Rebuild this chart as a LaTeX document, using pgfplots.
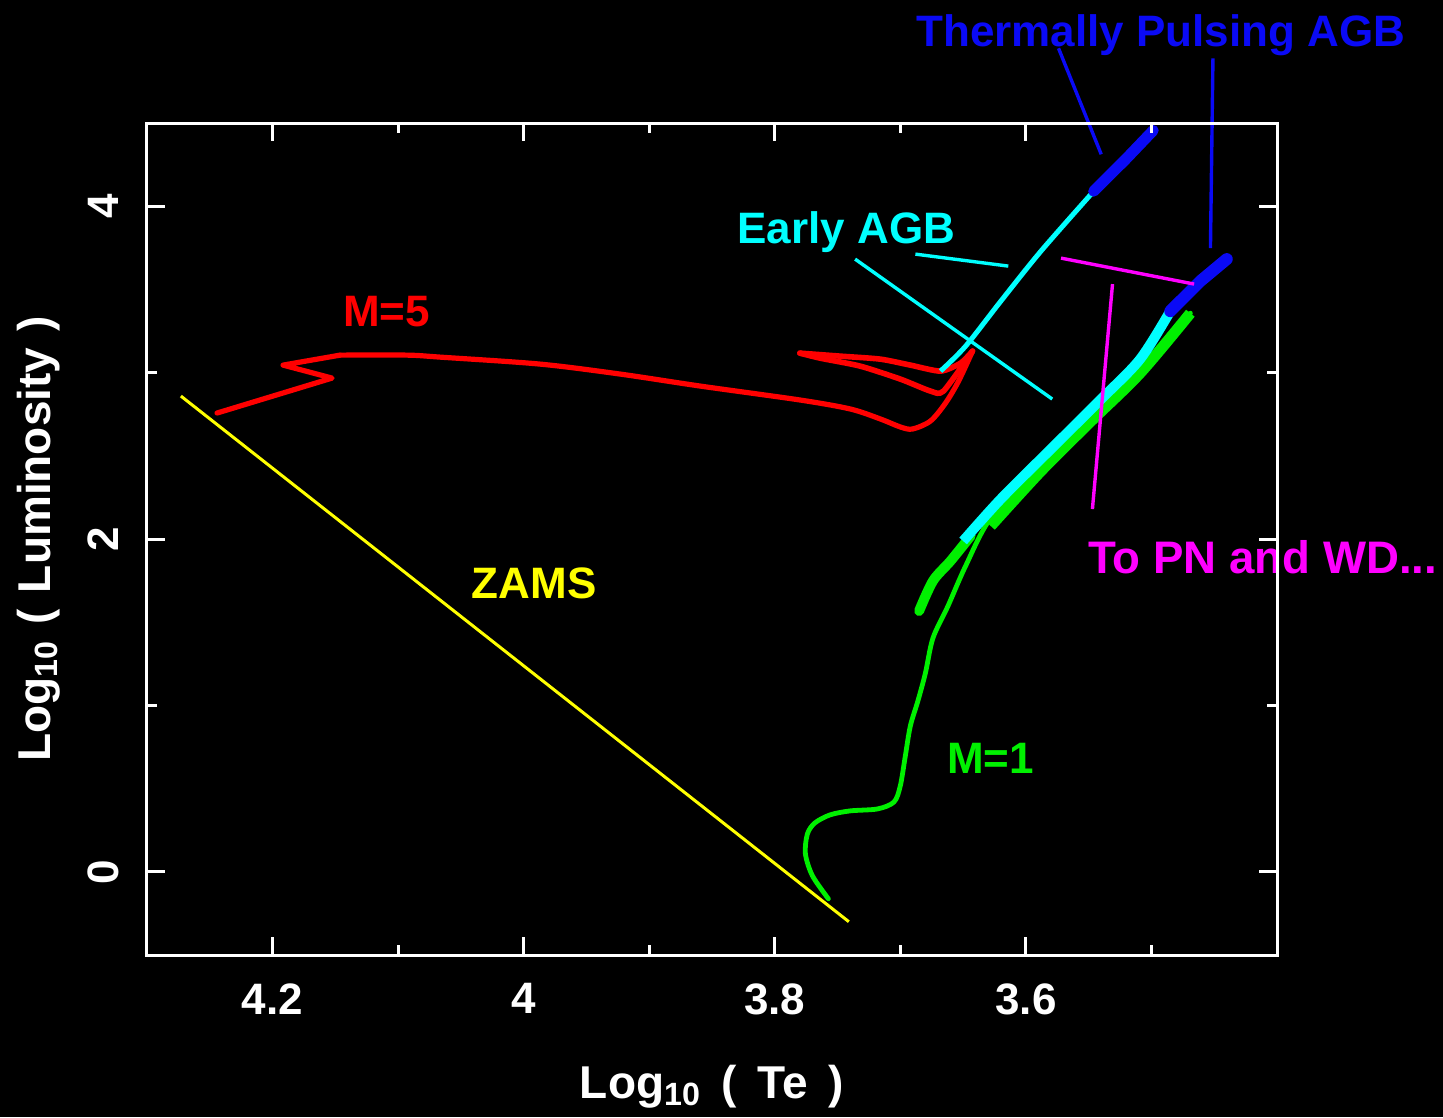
\documentclass[border=0pt]{standalone}
\usepackage{fontspec}
\setmainfont{Liberation Sans}
\usepackage{pgfplots}
\pgfplotsset{compat=1.18}
\definecolor{cred}{RGB}{255,0,0}
\definecolor{cgreen}{RGB}{0,240,0}
\definecolor{ccyan}{RGB}{0,255,255}
\definecolor{cblue}{RGB}{10,10,245}
\definecolor{cmag}{RGB}{255,0,255}
\definecolor{cyel}{RGB}{255,255,0}
\begin{document}
\begin{tikzpicture}
\useasboundingbox[fill=black] (-73.5pt,-81pt) rectangle (648pt,477.5pt);
\begin{axis}[at={(0,0)}, anchor=south west, scale only axis, width=565pt, height=416pt,
  x dir=reverse, xmin=3.4, xmax=4.3, ymin=-0.5, ymax=4.5, clip=false, axis on top,
  xtick={3.6,3.8,4,4.2}, minor xtick={3.5,3.7,3.9,4.1},
  ytick={0,2,4}, minor ytick={1,3},
  major tick length=9pt, minor tick length=5pt,
  axis line style={white, line width=1.5pt},
  tick style={white, line width=1.5pt},
  /pgf/number format/assume math mode=true,
  ticklabel style={font=\fontsize{22}{26}\selectfont\bfseries, white, inner sep=0pt},
  xticklabel style={anchor=north}, xticklabel shift=14pt,
  yticklabel style={rotate=90, anchor=south}, yticklabel shift=14pt,
  label style={font=\fontsize{23}{27}\selectfont\bfseries, white, inner sep=0pt},
  xlabel={Log\textsubscript{10}\hspace{0.45em}(\hspace{0.45em}Te\hspace{0.45em})},
  ylabel={Log\textsubscript{10}\hspace{0.35em}(\hspace{0.35em}Luminosity\hspace{0.35em})},
  xlabel style={at={(axis description cs:0.5,-0.1719)}, anchor=base},
  ylabel style={at={(axis description cs:-0.0858,0.5)}, anchor=base},
]
% ZAMS
\addplot[cyel, line width=1.5pt] coordinates {(4.273,2.859) (3.741,-0.300)};
% M=5 track
\addplot[cred, line width=2.6pt, line join=round, line cap=round] coordinates {
 (4.2442,2.757) (4.1526,2.967) (4.1916,3.045) (4.1781,3.063) (4.1462,3.105)};
\addplot[cred, line width=2.6pt, line join=round, line cap=round, smooth, tension=0.5] coordinates {
 (4.1462,3.105) (4.0928,3.105) (4.0665,3.093) (3.9868,3.051) (3.9230,2.991) (3.8593,2.919)
 (3.7796,2.835) (3.7397,2.781) (3.7158,2.721) (3.6999,2.673) (3.6903,2.661) (3.6760,2.709)
 (3.6640,2.817) (3.6536,2.949) (3.6425,3.129)};
\addplot[cred, line width=2.8pt, line join=round, line cap=round, smooth, tension=0.4] coordinates {
 (3.6425,3.129) (3.6656,2.889) (3.676,2.889) (3.700,2.961) (3.732,3.039) (3.764,3.087) (3.780,3.117)};
\addplot[cred, line width=2.8pt, line join=round, line cap=round, smooth, tension=0.4] coordinates {
 (3.780,3.117) (3.748,3.099) (3.716,3.081) (3.692,3.045) (3.668,3.009) (3.652,3.057) (3.6425,3.129)};
% M=1 track
\addplot[cgreen, line width=2.4pt, line join=round, line cap=round, smooth, tension=0.5] coordinates {
 (3.7573,-0.162) (3.770,-0.024) (3.7756,0.108) (3.774,0.228) (3.768,0.294) (3.756,0.342)
 (3.740,0.366) (3.718,0.378) (3.705,0.420) (3.700,0.517) (3.696,0.697) (3.692,0.877)
 (3.686,1.027) (3.680,1.195) (3.674,1.405) (3.662,1.598) (3.648,1.838) (3.628,2.126)
 (3.588,2.456) (3.548,2.739) (3.509,3.021) (3.469,3.357)};
\addplot[cgreen, line width=5pt, line cap=round, smooth] coordinates {
 (3.685,1.568) (3.674,1.748) (3.660,1.868) (3.644,2.018)};
\addplot[cgreen, line width=5.5pt, smooth] coordinates {
 (3.628,2.078) (3.588,2.408) (3.548,2.709) (3.509,2.997) (3.469,3.357)};
\addplot[ccyan, line width=5pt, smooth] coordinates {
 (3.650,1.988) (3.620,2.240) (3.580,2.541) (3.540,2.841) (3.509,3.081) (3.485,3.369)};
\addplot[cblue, line width=6pt, line cap=round] coordinates {
 (3.485,3.369) (3.461,3.550) (3.440,3.682)};
% M=5 AGB
\addplot[ccyan, line width=2.5pt, smooth] coordinates {
 (3.668,3.009) (3.648,3.159) (3.620,3.429) (3.588,3.730) (3.546,4.090)};
\addplot[cblue, line width=5.5pt, line cap=round] coordinates {
 (3.546,4.090) (3.5205,4.282) (3.4986,4.455)};
% annotation pointers
\addplot[cblue, line width=1.7pt] coordinates {(3.574,4.949) (3.540,4.312)};
\addplot[cblue, line width=1.7pt] coordinates {(3.451,4.889) (3.453,3.748)};
\addplot[ccyan, line width=1.7pt] coordinates {(3.688,3.712) (3.614,3.640)};
\addplot[ccyan, line width=1.7pt] coordinates {(3.736,3.682) (3.579,2.841)};
\addplot[cmag, line width=1.7pt] coordinates {(3.572,3.688) (3.466,3.532)};
\addplot[cmag, line width=1.7pt] coordinates {(3.531,3.532) (3.547,2.180)};
% labels
\begin{scope}[font=\fontsize{22}{26}\selectfont\bfseries, inner sep=0pt]
\node[cblue, anchor=base] at (axis cs:3.4926,4.961) {Thermally Pulsing AGB};
\node[ccyan, anchor=base] at (axis cs:3.7429,3.778) {Early AGB};
\node[cmag, anchor=base, font=\fontsize{22.8}{26}\selectfont\bfseries] at (axis cs:3.4113,1.790) {To PN and WD...};
\node[cred, anchor=base] at (axis cs:4.1091,3.279) {M=5};
\node[cyel, anchor=base] at (axis cs:3.9916,1.640) {ZAMS};
\node[cgreen, anchor=base] at (axis cs:3.6281,0.589) {M=1};
\end{scope}
\end{axis}
\end{tikzpicture}
\end{document}
